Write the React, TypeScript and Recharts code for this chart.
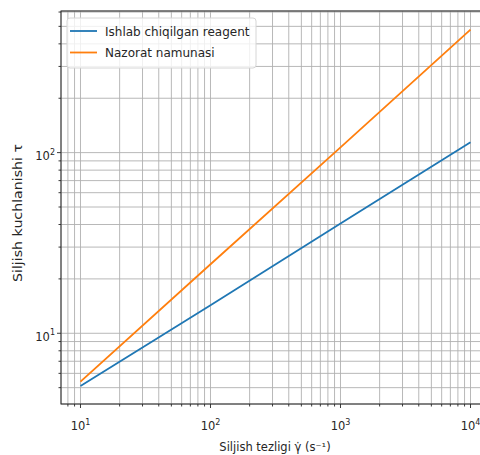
import { LineChart, Line, XAxis, YAxis, CartesianGrid, Customized } from "recharts";

const shearRate = [10, 100, 1000, 10000];
const reagent = [5.1, 14.3, 40.5, 114];
const control = [5.4, 24.1, 107, 480];

const xTicks = [8, 9, 10, 20, 30, 40, 50, 60, 70, 80, 90, 100, 200, 300, 400, 500, 600, 700, 800, 900,
  1000, 2000, 3000, 4000, 5000, 6000, 7000, 8000, 9000, 10000];
const yTicks = [5, 6, 7, 8, 9, 10, 20, 30, 40, 50, 60, 70, 80, 90, 100, 200, 300, 400, 500, 600];

const data = shearRate.map((x, i) => ({ x, reagent: reagent[i], control: control[i] }));

const FONT = "DejaVu Sans, sans-serif";
const INK = "#262626";

const isMajor = (v: number) => Math.abs(Math.log10(v) - Math.round(Math.log10(v))) < 1e-9;

function XTick(props: any) {
  const { x, y, payload } = props;
  const v = payload.value;
  const major = isMajor(v);
  return (
    <g>
      <line x1={x} y1={y} x2={x} y2={y + (major ? 4 : 2.5)} stroke={INK} strokeWidth={0.9} />
      {major && (
        <text x={x} y={y + 26} textAnchor="middle" fontFamily={FONT} fontSize={11.5} fill={INK}>
          <tspan>10</tspan>
          <tspan dy={-5.5} fontSize={8}>{Math.round(Math.log10(v))}</tspan>
        </text>
      )}
    </g>
  );
}

function YTick(props: any) {
  const { x, y, payload } = props;
  const v = payload.value;
  const major = isMajor(v);
  return (
    <g>
      <line x1={x} y1={y} x2={x - (major ? 4 : 2.5)} y2={y} stroke={INK} strokeWidth={0.9} />
      {major && (
        <text x={x - 6} y={y + 7.5} textAnchor="end" fontFamily={FONT} fontSize={11.5} fill={INK}>
          <tspan>10</tspan>
          <tspan dy={-5.5} fontSize={8}>{Math.round(Math.log10(v))}</tspan>
        </text>
      )}
    </g>
  );
}

function Extras() {
  return (
    <g>
      <text x={275} y={450.5} textAnchor="middle" fontFamily={FONT} fontSize={11.5} fill={INK}>
        Siljish tezligi γ̇ (s⁻¹)
      </text>
      <g transform="rotate(-90)">
        <text x={-282} y={22} textAnchor="start" fontFamily={FONT} fontSize={12} fill={INK}
          textLength={138} lengthAdjust="spacingAndGlyphs">
          Siljish kuchlanishi τ
        </text>
      </g>
      <rect x={61} y={11} width={429} height={393} fill="none" stroke={INK} strokeWidth={1} />
      <g>
        <rect x={67} y={18} width={189} height={50} rx={3} fill="#fff" fillOpacity={0.8} stroke="#d6d6d6" strokeWidth={1} />
        <line x1={70} y1={31} x2={97} y2={31} stroke="#1f77b4" strokeWidth={1.8} />
        <text x={105} y={35.5} fontFamily={FONT} fontSize={12} fill={INK}>Ishlab chiqilgan reagent</text>
        <line x1={70} y1={52.5} x2={97} y2={52.5} stroke="#ff7f0e" strokeWidth={1.8} />
        <text x={105} y={57} fontFamily={FONT} fontSize={12} fill={INK}>Nazorat namunasi</text>
      </g>
    </g>
  );
}

export default function App() {
  return (
    <div style={{ position: "absolute", left: 0, top: 0, width: 480, height: 455, overflow: "hidden", background: "#fff" }}>
      <LineChart width={500} height={455} data={data} margin={{ top: 11, right: 10, bottom: 11, left: 0 }}>
        <CartesianGrid stroke="#b0b0b0" strokeWidth={0.9} />
        <XAxis dataKey="x" type="number" scale="log" domain={[7.08, 14125]} allowDataOverflow
          ticks={xTicks} interval={0} height={40} tickSize={0} tickMargin={0} tickLine={false}
          axisLine={false} tick={<XTick />} />
        <YAxis type="number" scale="log" domain={[4.06, 608]} allowDataOverflow
          ticks={yTicks} interval={0} width={61} tickSize={0} tickMargin={0} tickLine={false}
          axisLine={false} tick={<YTick />} />
        <Line dataKey="reagent" type="linear" stroke="#1f77b4" strokeWidth={1.8} dot={false} isAnimationActive={false} />
        <Line dataKey="control" type="linear" stroke="#ff7f0e" strokeWidth={1.8} dot={false} isAnimationActive={false} />
        <Customized component={Extras} />
      </LineChart>
    </div>
  );
}
